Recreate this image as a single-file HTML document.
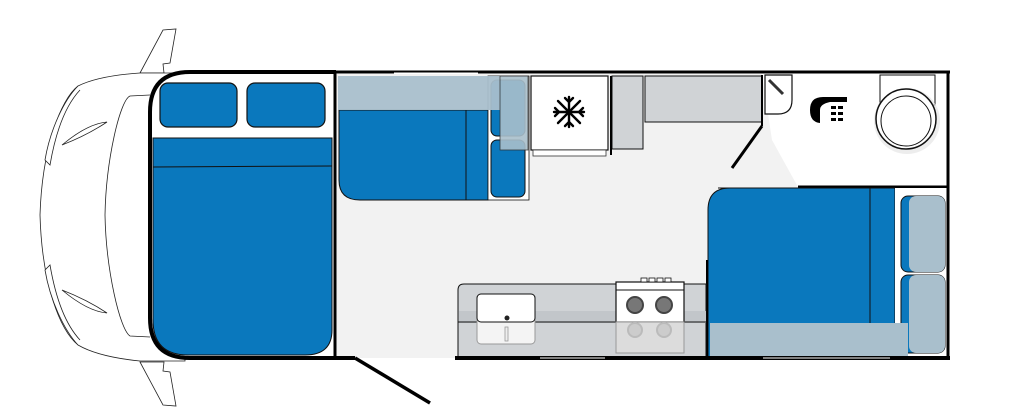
<!DOCTYPE html>
<html><head><meta charset="utf-8"><style>html,body{margin:0;padding:0;background:#fff}svg{display:block}</style></head>
<body>
<svg width="1024" height="410" viewBox="0 0 1024 410" xmlns="http://www.w3.org/2000/svg">
<!-- cab -->
<g fill="#fff" stroke="#222" stroke-width="0.8">
<path d="M140,73 L163,30 L176,29 L170,63 L163,64 L164,73 Z"/>
<path d="M140,362 L163,405 L176,406 L170,372 L163,371 L164,362 Z"/>
<path d="M185,73 L140,73 C110,75 90,80 78,86 C60,100 42,150 40,215 C42,285 60,330 78,345 C90,352 110,358 140,361 L185,361 Z"/>
<path d="M150,95 L130,96 C120,100 106,160 105,215 C106,270 120,330 130,336 L150,337"/>
<path d="M78,86 C64,100 50,130 45,160 L50,165 C56,130 66,105 80,90"/>
<path d="M78,345 C64,330 50,300 45,270 L50,265 C56,300 66,325 80,340"/>
<path d="M62,145 C80,130 95,123 107,122 C95,130 80,138 62,145 Z"/>
<path d="M62,290 C80,305 95,312 107,313 C95,305 80,297 62,290 Z"/>
</g>
<!-- floor -->
<rect x="336" y="74" width="612" height="284" fill="#f2f2f2"/>
<polygon points="762,74 948,74 948,187 798,187 772,140" fill="#fff"/>
<!-- cab bed -->
<path d="M336,72 L190,72 Q150,72 150,112 L150,318 Q150,358 190,358 L336,358 Z" fill="#fff"/>
<path d="M153,138 L332,138 L332,330 Q332,355 305,355 L188,355 Q153,355 153,320 Z" fill="#0a78bd" stroke="#111" stroke-width="1"/>
<line x1="153" y1="167" x2="332" y2="166" stroke="#111" stroke-width="1"/>
<rect x="160" y="83" width="77" height="44" rx="8" fill="#0a78bd" stroke="#111" stroke-width="1.2"/>
<rect x="247" y="83" width="78" height="44" rx="8" fill="#0a78bd" stroke="#111" stroke-width="1.2"/>
<path d="M336,72 L190,72 Q150,72 150,112 L150,318 Q150,358 190,358 L336,358" fill="none" stroke="#000" stroke-width="4"/>
<line x1="335" y1="72" x2="335" y2="358" stroke="#000" stroke-width="3"/>
<!-- dinette -->
<path d="M339,110 L488,110 L488,200 L360,200 Q339,200 339,180 Z" fill="#0a78bd" stroke="#111" stroke-width="1"/>
<line x1="466" y1="110" x2="466" y2="200" stroke="#111" stroke-width="1"/>
<rect x="488" y="76" width="41" height="124" fill="#fff" stroke="#111" stroke-width="0.8"/>
<rect x="491" y="80" width="34" height="56" rx="6" fill="#0a78bd" stroke="#111" stroke-width="1"/>
<rect x="491" y="140" width="34" height="57" rx="6" fill="#0a78bd" stroke="#111" stroke-width="1"/>
<rect x="338" y="76" width="162" height="34" fill="#a9bfcc" opacity="0.95"/>
<rect x="500" y="76" width="28" height="74" fill="#a9bfcc" opacity="0.9" stroke="#333" stroke-width="0.8"/>
<!-- fridge -->
<rect x="531" y="76" width="77" height="74" fill="#fff" stroke="#111" stroke-width="1.2"/>
<rect x="533" y="150" width="73" height="6" fill="#fff" stroke="#333" stroke-width="0.8"/>
<g stroke="#000" stroke-width="2.4" stroke-linecap="round" fill="none" transform="translate(569,112)">
<line x1="-15" y1="0" x2="15" y2="0"/><line x1="0" y1="-15" x2="0" y2="15"/>
<line x1="-11" y1="-11" x2="11" y2="11"/><line x1="-11" y1="11" x2="11" y2="-11"/>
<path d="M-4,-14 L0,-10 L4,-14 M-4,14 L0,10 L4,14 M-14,-4 L-10,0 L-14,4 M14,-4 L10,0 L14,4"/>
</g>
<rect x="612" y="76" width="31" height="73" fill="#d0d3d6" stroke="#111" stroke-width="1"/>
<line x1="611" y1="76" x2="611" y2="155" stroke="#000" stroke-width="2"/>
<rect x="645" y="76" width="117" height="46" fill="#d0d3d6" stroke="#111" stroke-width="1"/>
<!-- bathroom -->
<path d="M765,75 L792,75 L792,100 Q792,114 778,114 L765,114 Z" fill="#fff" stroke="#111" stroke-width="1.2"/>
<line x1="769" y1="80" x2="783" y2="94" stroke="#333" stroke-width="3"/>
<line x1="762" y1="75" x2="762" y2="126" stroke="#000" stroke-width="2"/>
<line x1="762" y1="126" x2="732" y2="168" stroke="#000" stroke-width="3"/>
<path d="M847,97 L823,97 Q810,97 810,110 Q810,122 820,123 L820,110 Q820,104 830,102 L847,102 Z" fill="#000"/>
<g fill="#000"><rect x="831" y="106" width="5" height="3"/><rect x="838" y="106" width="5" height="3"/><rect x="831" y="112" width="5" height="3"/><rect x="838" y="112" width="5" height="3"/><rect x="831" y="118" width="5" height="3"/><rect x="838" y="118" width="5" height="3"/></g>
<rect x="880" y="75" width="55" height="30" fill="#fff" stroke="#111" stroke-width="1"/>
<circle cx="907" cy="121" r="33" fill="#e6e6e6" opacity="0.7"/>
<circle cx="906" cy="119" r="30" fill="#fff" stroke="#111" stroke-width="1.5"/>
<circle cx="906" cy="121" r="25" fill="#fff" stroke="#111" stroke-width="1"/>
<line x1="798" y1="187" x2="948" y2="187" stroke="#000" stroke-width="3"/>
<!-- rear bed -->
<path d="M718,188 L870,188 L870,358 L708,358 L708,210 Q708,188 730,188 Z" fill="#0a78bd" stroke="#111" stroke-width="1"/>
<rect x="870" y="188" width="25" height="170" fill="#0a78bd" stroke="#111" stroke-width="1"/>
<rect x="895" y="188" width="53" height="170" fill="#fff"/>
<rect x="901" y="196" width="44" height="76" rx="7" fill="#0a78bd" stroke="#111" stroke-width="1"/>
<rect x="901" y="275" width="44" height="78" rx="7" fill="#0a78bd" stroke="#111" stroke-width="1"/>
<rect x="909" y="196" width="36" height="76" rx="7" fill="#a9bfcc"/>
<rect x="909" y="275" width="36" height="78" rx="7" fill="#a9bfcc"/>
<rect x="710" y="323" width="198" height="34" fill="#a9bfcc"/>
<line x1="707" y1="260" x2="707" y2="358" stroke="#000" stroke-width="2"/>
<!-- kitchen -->
<path d="M458,357 L458,290 Q458,284 464,284 L706,284 L706,357 Z" fill="#d0d3d6" stroke="#111" stroke-width="1"/>
<rect x="459" y="311" width="247" height="12" fill="#c2c6ca"/>
<line x1="458" y1="322" x2="706" y2="322" stroke="#111" stroke-width="1"/>
<rect x="477" y="294" width="58" height="50" rx="4" fill="#f4f4f4" stroke="#999" stroke-width="1"/>
<rect x="477" y="294" width="58" height="28" rx="4" fill="#fff" stroke="#111" stroke-width="1"/>
<circle cx="507" cy="318" r="2.5" fill="#222"/>
<rect x="505" y="327" width="3" height="14" fill="#eee" stroke="#999" stroke-width="0.8"/>
<rect x="616" y="282" width="68" height="40" fill="#fff" stroke="#111" stroke-width="1.2"/>
<rect x="616" y="322" width="68" height="31" fill="#dcdcdc" stroke="#999" stroke-width="1"/>
<g fill="#fff" stroke="#111" stroke-width="0.8"><rect x="641" y="278" width="6" height="4"/><rect x="649" y="278" width="6" height="4"/><rect x="657" y="278" width="6" height="4"/><rect x="665" y="278" width="6" height="4"/></g>
<line x1="616" y1="290" x2="684" y2="290" stroke="#111" stroke-width="1"/>
<g stroke="#444" stroke-width="2" fill="#777"><circle cx="635" cy="305" r="8"/><circle cx="664" cy="305" r="8"/></g>
<g stroke="#bbb" stroke-width="2" fill="#ccc"><circle cx="635" cy="330" r="7"/><circle cx="664" cy="330" r="7"/></g>
<!-- walls -->
<line x1="335" y1="72" x2="950" y2="72" stroke="#000" stroke-width="3"/>
<line x1="948" y1="72" x2="948" y2="360" stroke="#000" stroke-width="3"/>
<line x1="335" y1="358" x2="355" y2="358" stroke="#000" stroke-width="4"/>
<line x1="455" y1="358" x2="950" y2="358" stroke="#000" stroke-width="4"/>
<line x1="355" y1="358" x2="430" y2="403" stroke="#000" stroke-width="3.5"/>
<line x1="394" y1="73" x2="478" y2="73" stroke="#fff" stroke-width="1"/>
<line x1="540" y1="358" x2="605" y2="358" stroke="#fff" stroke-width="1"/>
<line x1="763" y1="358" x2="890" y2="358" stroke="#fff" stroke-width="1"/>
</svg>
</body></html>
